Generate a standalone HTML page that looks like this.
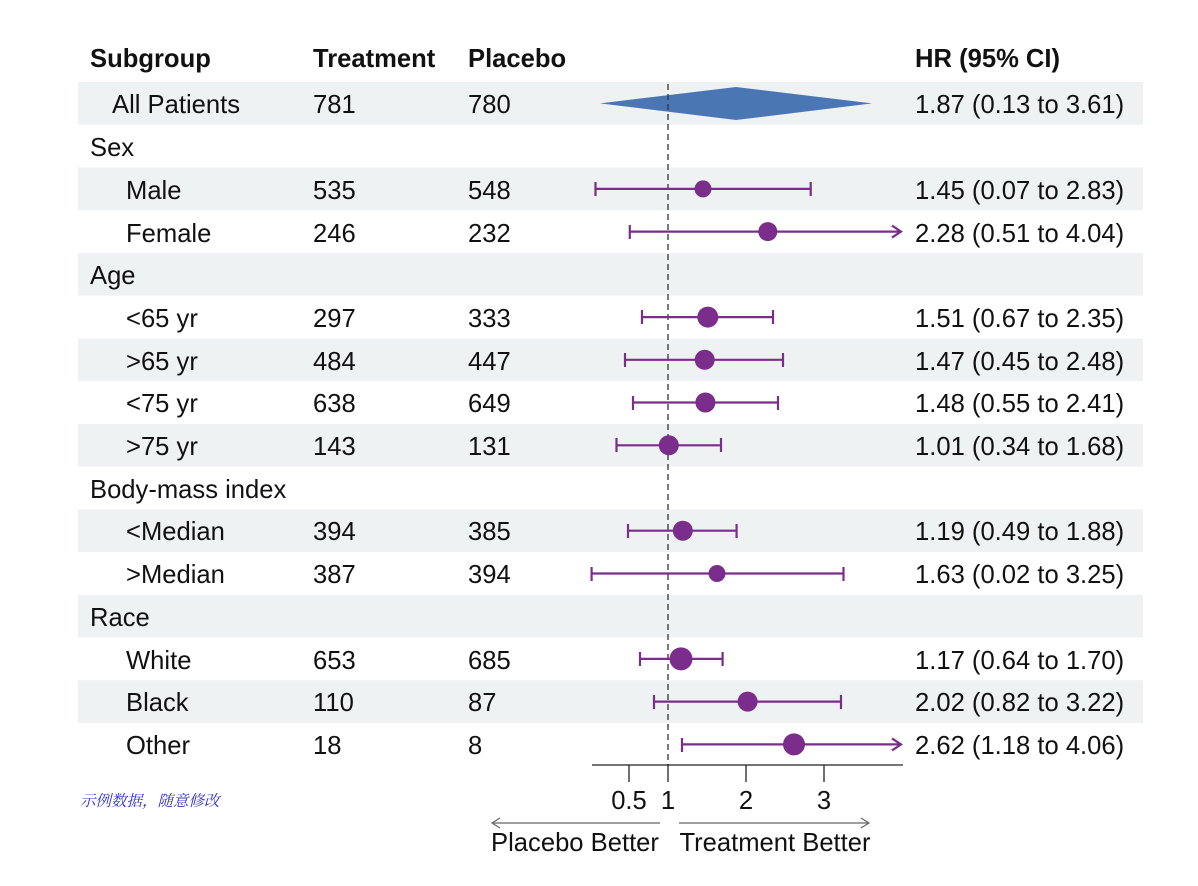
<!DOCTYPE html>
<html><head><meta charset="utf-8"><style>body{margin:0;background:#fff}svg{display:block}</style></head><body>
<svg width="1198" height="886" xmlns="http://www.w3.org/2000/svg" font-family="Liberation Sans, Arial, sans-serif" font-size="25.6">
<g fill="#eff2f2">
<rect x="78" y="82" width="1065" height="42.7"/>
<rect x="78" y="167.5" width="1065" height="42.7"/>
<rect x="78" y="252.9" width="1065" height="42.7"/>
<rect x="78" y="338.4" width="1065" height="42.7"/>
<rect x="78" y="423.9" width="1065" height="42.7"/>
<rect x="78" y="509.3" width="1065" height="42.7"/>
<rect x="78" y="594.8" width="1065" height="42.7"/>
<rect x="78" y="680.3" width="1065" height="42.7"/>
</g>
<g font-weight="bold" fill="#111">
<text x="90" y="67">Subgroup</text><text x="313" y="67">Treatment</text><text x="468" y="67">Placebo</text><text x="915" y="67">HR (95% CI)</text>
</g>
<g fill="#111">
<text x="112" y="113">All Patients</text><text x="313" y="113">781</text><text x="468" y="113">780</text><text x="915" y="113">1.87 (0.13 to 3.61)</text>
<text x="90" y="156">Sex</text>
<text x="126" y="199">Male</text><text x="313" y="199">535</text><text x="468" y="199">548</text><text x="915" y="199">1.45 (0.07 to 2.83)</text>
<text x="126" y="242">Female</text><text x="313" y="242">246</text><text x="468" y="242">232</text><text x="915" y="242">2.28 (0.51 to 4.04)</text>
<text x="90" y="284">Age</text>
<text x="126" y="327">&lt;65 yr</text><text x="313" y="327">297</text><text x="468" y="327">333</text><text x="915" y="327">1.51 (0.67 to 2.35)</text>
<text x="126" y="370">&gt;65 yr</text><text x="313" y="370">484</text><text x="468" y="370">447</text><text x="915" y="370">1.47 (0.45 to 2.48)</text>
<text x="126" y="412">&lt;75 yr</text><text x="313" y="412">638</text><text x="468" y="412">649</text><text x="915" y="412">1.48 (0.55 to 2.41)</text>
<text x="126" y="455">&gt;75 yr</text><text x="313" y="455">143</text><text x="468" y="455">131</text><text x="915" y="455">1.01 (0.34 to 1.68)</text>
<text x="90" y="498">Body-mass index</text>
<text x="126" y="540">&lt;Median</text><text x="313" y="540">394</text><text x="468" y="540">385</text><text x="915" y="540">1.19 (0.49 to 1.88)</text>
<text x="126" y="583">&gt;Median</text><text x="313" y="583">387</text><text x="468" y="583">394</text><text x="915" y="583">1.63 (0.02 to 3.25)</text>
<text x="90" y="626">Race</text>
<text x="126" y="669">White</text><text x="313" y="669">653</text><text x="468" y="669">685</text><text x="915" y="669">1.17 (0.64 to 1.70)</text>
<text x="126" y="711">Black</text><text x="313" y="711">110</text><text x="468" y="711">87</text><text x="915" y="711">2.02 (0.82 to 3.22)</text>
<text x="126" y="754">Other</text><text x="313" y="754">18</text><text x="468" y="754">8</text><text x="915" y="754">2.62 (1.18 to 4.06)</text>
</g>
<polygon points="600,103.4 736,87 872,103.4 736,120" fill="#4a76b4"/>
<line x1="668" y1="84" x2="668" y2="765" stroke="#333" stroke-width="1.3" stroke-dasharray="6,4"/>
<g stroke="#7b2d8b" stroke-width="2.2" fill="none">
<path d="M595.5 188.9H810.7M595.5 182v14M810.7 182v14"/>
<path d="M629.8 231.6H900M629.8 225v14M892 225.6l9 6-9 6"/>
<path d="M642 317.1H773M642 310v14M773 310v14"/>
<path d="M625 359.8H783M625 353v14M783 353v14"/>
<path d="M633 402.5H778M633 396v14M778 396v14"/>
<path d="M616.5 445.3H721M616.5 438v14M721 438v14"/>
<path d="M628 530.7H736.6M628 524v14M736.6 524v14"/>
<path d="M591.6 573.5H843.5M591.6 567v14M843.5 567v14"/>
<path d="M640 658.9H722.6M640 652v14M722.6 652v14"/>
<path d="M654 701.6H841M654 695v14M841 695v14"/>
<path d="M682 744.4H900M682 738v14M892 738.4l9 6-9 6"/>
</g>
<g fill="#7b2d8b">
<circle cx="703" cy="188.9" r="8.5"/><circle cx="767.8" cy="231.6" r="9.5"/>
<circle cx="707.8" cy="317.1" r="10.5"/><circle cx="704.7" cy="359.8" r="10"/>
<circle cx="705.4" cy="402.5" r="10"/><circle cx="668.8" cy="445.3" r="10"/>
<circle cx="682.8" cy="530.7" r="10"/><circle cx="717" cy="573.5" r="8.5"/>
<circle cx="681" cy="658.9" r="11.5"/><circle cx="747.6" cy="701.6" r="10"/>
<circle cx="794" cy="744.4" r="11"/>
</g>
<g stroke="#222" stroke-width="1.3">
<line x1="592" y1="765" x2="903" y2="765"/>
<line x1="629" y1="765" x2="629" y2="782"/><line x1="668" y1="765" x2="668" y2="782"/>
<line x1="746" y1="765" x2="746" y2="782"/><line x1="824" y1="765" x2="824" y2="782"/>
</g>
<g fill="#111" text-anchor="middle">
<text x="629" y="809">0.5</text><text x="668" y="809">1</text><text x="746" y="809">2</text><text x="824" y="809">3</text>
</g>
<g stroke="#666" stroke-width="1.2" fill="none">
<path d="M660 823H492M500 818l-8 5 8 5"/>
<path d="M679 823H869M861 818l8 5-8 5"/>
</g>
<text x="575" y="851" text-anchor="middle" fill="#111">Placebo Better</text>
<text x="775" y="851" text-anchor="middle" fill="#111">Treatment Better</text>
<text x="80" y="806" font-size="15.5" font-style="italic" fill="#3333cc" font-family="Liberation Serif, Noto Serif CJK SC, serif">示例数据，随意修改</text>
</svg>
</body></html>
